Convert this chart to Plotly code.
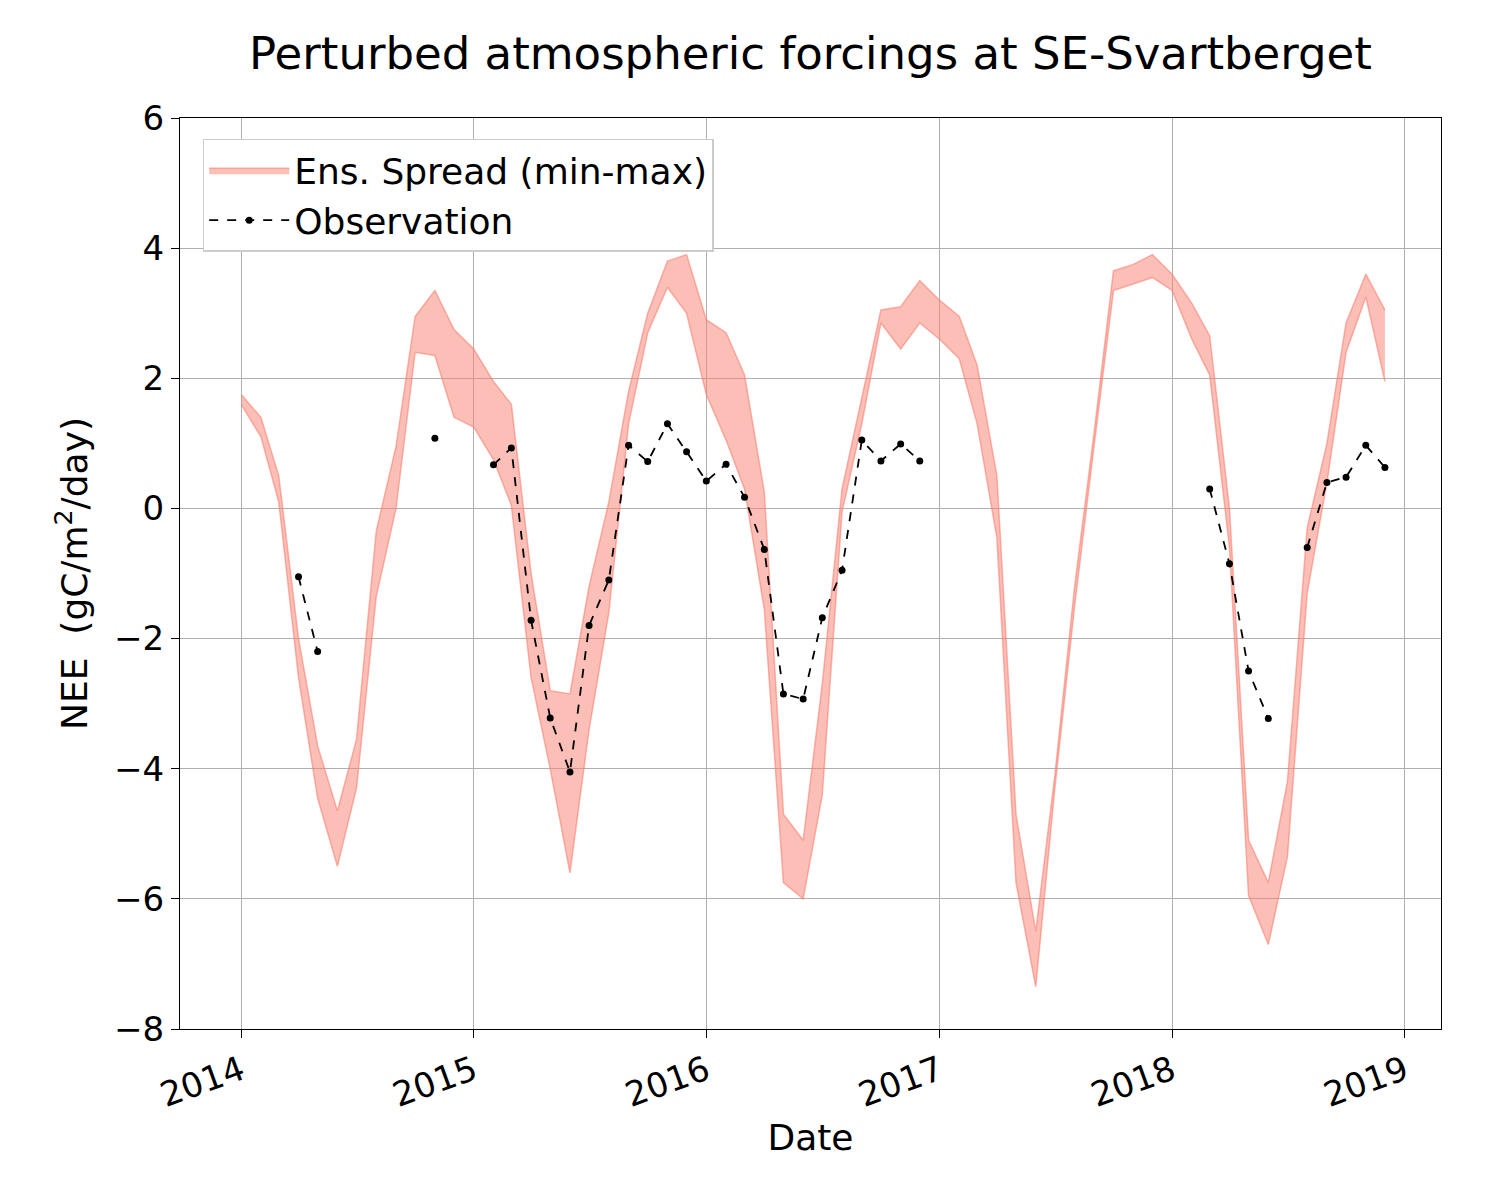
import pandas as pd
import plotly.graph_objects as go

dates = pd.date_range("2014-01-01", periods=60, freq="MS")

ens_max = [1.75, 1.4, 0.5, -2.0, -3.65, -4.65, -3.55, -0.35, 0.95, 2.95, 3.35, 2.75,
           2.45, 1.95, 1.6, -1.0, -2.8, -2.85, -1.2, 0.1, 1.8, 3.0, 3.8, 3.9,
           2.9, 2.7, 2.05, 0.25, -4.7, -5.1, -2.7, 0.3, 1.7, 3.05, 3.1, 3.5,
           3.2, 2.95, 2.2, 0.5, -4.7, -6.5, -4.1, -1.2, 1.2, 3.65, 3.75, 3.9,
           3.6, 3.15, 2.65, 0.0, -5.1, -5.75, -4.2, -0.3, 1.0, 2.85, 3.6, 3.05]
ens_min = [1.6, 1.1, 0.1, -2.6, -4.45, -5.5, -4.3, -1.35, 0.0, 2.4, 2.35, 1.4,
           1.25, 0.75, 0.05, -2.6, -4.0, -5.6, -3.4, -1.6, 1.3, 2.7, 3.4, 3.0,
           1.75, 1.05, 0.3, -1.55, -5.75, -6.0, -4.4, -0.05, 1.3, 2.85, 2.45, 2.85,
           2.6, 2.3, 1.3, -0.45, -5.75, -7.35, -4.3, -1.5, 1.0, 3.35, 3.45, 3.55,
           3.35, 2.6, 2.05, -0.6, -5.95, -6.7, -5.35, -1.3, 0.4, 2.4, 3.25, 1.95]
obs = [None, None, None, -1.05, -2.2, None, None, None, None, None, 1.08, None,
       None, 0.67, 0.93, -1.72, -3.22, -4.05, -1.8, -1.1, 0.97, 0.72, 1.3, 0.87,
       0.42, 0.68, 0.17, -0.63, -2.85, -2.93, -1.68, -0.95, 1.05, 0.73, 0.99, 0.73,
       None, None, None, None, None, None, None, None, None, None, None, None,
       None, None, 0.3, -0.85, -2.5, -3.23, None, -0.6, 0.4, 0.48, 0.97, 0.63]

fig = go.Figure()
fig.add_trace(go.Scatter(x=dates, y=ens_min, mode="lines",
                         line=dict(color="rgba(250,128,114,0.6)", width=1.5),
                         showlegend=False, hoverinfo="skip"))
fig.add_trace(go.Scatter(x=dates, y=ens_max, mode="lines", name="Ens. Spread (min-max)",
                         line=dict(color="rgba(250,128,114,0.6)", width=1.5),
                         fill="tonexty", fillcolor="rgba(250,128,114,0.5)"))
fig.add_trace(go.Scatter(x=dates, y=obs, mode="lines+markers", name="Observation",
                         line=dict(color="black", width=1.8, dash="dash"),
                         marker=dict(color="black", size=7), connectgaps=False))

axis = dict(showline=True, linecolor="black", mirror=True, gridcolor="#b0b0b0",
            ticks="outside", ticklen=8, tickcolor="black", zeroline=False,
            automargin=False, tickfont=dict(size=34, color="black"))
fig.update_layout(
    width=1500, height=1200,
    margin=dict(l=172, r=67, t=110, b=179),
    plot_bgcolor="white", paper_bgcolor="white",
    font=dict(family="DejaVu Sans", color="black"),
    title=dict(text="Perturbed atmospheric forcings at SE-Svartberget", x=0.535, xanchor="center",
               y=0.962, yanchor="middle", font=dict(size=45)),
    xaxis=dict(axis, title=dict(text="Date", font=dict(size=36), standoff=10), tickangle=-20,
               range=["2013-09-27", "2019-02-27"],
               tickvals=["2014-01-01", "2015-01-01", "2016-01-01", "2017-01-01", "2018-01-01", "2019-01-01"],
               ticktext=["2014", "2015", "2016", "2017", "2018", "2019"]),
    yaxis=dict(axis, title=dict(text="NEE  (gC/m<sup>2</sup>/day)", font=dict(size=36), standoff=15),
               range=[-8, 6],
               ticktext=["\u22128", "\u22126", "\u22124", "\u22122", "0", "2", "4", "6"],
               tickvals=[-8, -6, -4, -2, 0, 2, 4, 6]),
    legend=dict(x=0.018, y=0.977, xanchor="left", yanchor="top", bgcolor="white",
                traceorder="normal", itemwidth=80,
                bordercolor="#cccccc", borderwidth=1.5, font=dict(size=36)),
)
fig.write_html("out.html")
